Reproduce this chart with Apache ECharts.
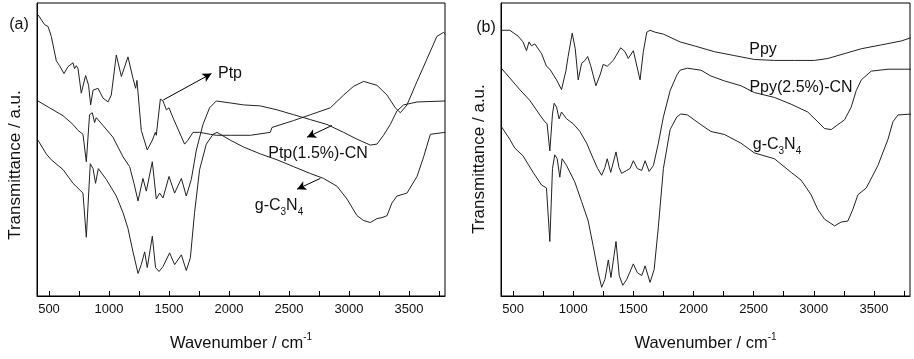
<!DOCTYPE html>
<html>
<head>
<meta charset="utf-8">
<title>FTIR spectra</title>
<script src="https://cdn.jsdelivr.net/npm/echarts@6/dist/echarts.min.js"></script>
<style>
  html, body { margin: 0; padding: 0; background: #fff; }
  #chart { width: 914px; height: 359px; }
</style>
</head>
<body>
<div id="chart"></div>
<script>
// wavenumber axis
var tickValues = [500, 750, 1000, 1250, 1500, 1750, 2000, 2250, 2500, 2750, 3000, 3250, 3500, 3750];
var labelValues = [500, 1000, 1500, 2000, 2500, 3000, 3500];

// (a) [wavenumber, transmittance a.u.]
var ptpA = [[408,287],[463,277],[492,275],[519,265],[561,240],[588,235],[625,227],[658,234],[700,238],[713,232],[728,235],[742,232],[769,207],[805,225],[830,215],[847,195],[867,210],[908,212],[950,202],[992,198],[1019,205],[1061,246],[1103,224],[1158,244],[1200,222],[1222,212],[1233,220],[1269,169],[1319,149],[1361,159],[1386,167],[1394,164],[1428,201],[1450,199],[1478,190],[1500,192],[1533,182],[1630,155],[1658,159],[1700,167],[1755,167],[1844,165],[1894,164],[2011,164],[2178,164],[2344,167],[2358,172],[2538,179],[2678,185],[2844,192],[2955,205],[3038,214],[3122,219],[3233,215],[3317,205],[3386,192],[3428,187],[3483,195],[3567,219],[3650,242],[3733,265],[3788,269],[3802,267]];
var ptpCnA = [[408,199],[505,192],[617,184],[700,175],[742,169],[783,165],[811,137],[838,185],[861,187],[880,177],[894,182],[950,174],[1033,162],[1117,142],[1172,132],[1208,115],[1242,97],[1283,120],[1311,107],[1361,137],[1394,99],[1422,105],[1450,100],[1500,122],[1547,105],[1603,120],[1644,102],[1686,119],[1728,149],[1783,175],[1838,192],[1894,199],[2011,197],[2122,195],[2261,194],[2400,190],[2538,185],[2678,180],[2817,175],[2955,167],[3067,160],[3178,154],[3233,155],[3288,164],[3344,175],[3400,189],[3455,195],[3567,198],[3800,199]];
var gcnA = [[408,159],[477,145],[519,139],[617,129],[700,115],[742,110],[783,105],[811,60],[844,135],[867,130],[888,115],[911,130],[977,119],[1061,102],[1117,85],[1158,69],[1200,45],[1242,23],[1269,32],[1297,45],[1319,29],[1361,61],[1388,29],[1417,25],[1450,30],[1505,44],[1547,32],[1603,42],[1644,26],[1678,39],[1713,85],[1755,129],[1811,155],[1867,165],[1900,167],[2011,159],[2122,152],[2261,145],[2400,139],[2538,132],[2678,125],[2788,120],[2900,112],[2983,99],[3067,82],[3122,77],[3178,75],[3233,79],[3275,80],[3317,82],[3358,95],[3400,102],[3483,105],[3567,122],[3622,142],[3678,165],[3800,167]];

// (b)
var ppyB = [[403,273],[473,273],[542,267],[583,261],[612,252],[633,261],[653,257],[681,259],[737,249],[778,236],[806,233],[862,222],[903,212],[939,231],[958,246],[992,270],[1017,254],[1042,222],[1070,239],[1098,242],[1120,246],[1145,237],[1189,216],[1223,227],[1250,238],[1283,236],[1333,242],[1395,255],[1431,251],[1458,244],[1500,252],[1556,222],[1583,251],[1612,271],[1639,273],[1681,271],[1750,269],[1889,261],[2006,257],[2173,251],[2339,247],[2506,243],[2673,242],[2839,242],[3006,242],[3117,244],[3228,248],[3395,254],[3562,258],[3728,262],[3825,266]];
var ppyCnB = [[403,234],[473,224],[556,212],[639,201],[723,186],[764,179],[783,177],[806,149],[828,187],[842,198],[862,194],[883,182],[903,189],[945,182],[1000,177],[1056,169],[1112,157],[1167,141],[1203,131],[1237,124],[1264,132],[1283,141],[1312,127],[1356,148],[1381,132],[1403,126],[1445,129],[1473,131],[1500,139],[1533,131],[1570,129],[1598,139],[1631,128],[1667,134],[1708,157],[1750,184],[1806,211],[1862,227],[1889,232],[1950,234],[2062,232],[2145,226],[2256,221],[2395,216],[2506,209],[2673,204],[2812,197],[2950,189],[3033,179],[3089,172],[3145,171],[3200,176],[3256,181],[3311,194],[3353,211],[3395,222],[3478,231],[3617,233],[3825,233]];
var gcnB = [[403,174],[473,161],[514,152],[583,144],[667,127],[737,114],[778,111],[806,56],[828,131],[847,145],[867,141],[889,122],[908,141],[945,134],[1014,117],[1070,97],[1125,77],[1167,51],[1208,24],[1237,9],[1264,17],[1292,37],[1314,19],[1356,56],[1383,21],[1412,11],[1445,17],[1500,33],[1533,24],[1570,21],[1598,31],[1639,14],[1673,27],[1708,71],[1750,131],[1806,171],[1862,184],[1895,187],[1950,186],[2062,176],[2145,169],[2256,166],[2395,157],[2506,147],[2673,141],[2812,127],[2895,119],[2978,104],[3033,89],[3089,79],[3173,72],[3228,76],[3283,77],[3325,89],[3367,104],[3437,111],[3533,134],[3617,161],[3658,179],[3700,186],[3825,187]];

var FONT = '"Liberation Sans", Arial, sans-serif';
var INK = '#111';
var LINE = '#222';

function makeX(idx) {
    return {
        gridIndex: idx,
        type: 'value',
        min: 400,
        max: 3800,
        name: 'Wavenumber / cm{sup|-1}',
        nameLocation: 'middle',
        nameGap: 36,
        nameTextStyle: {
            fontFamily: FONT, fontSize: 16.5, color: INK, lineHeight: 22,
            rich: { sup: { fontFamily: FONT, fontSize: 10, color: INK, verticalAlign: 'top', lineHeight: 22 } }
        },
        axisLine: { show: true, lineStyle: { color: '#000', width: 1 } },
        axisTick: { show: true, inside: true, length: 5, customValues: tickValues, lineStyle: { color: '#000' } },
        axisLabel: {
            show: true, customValues: labelValues, fontFamily: FONT, fontSize: 13, color: INK, margin: 7,
            formatter: function (v) { return String(v); }
        },
        splitLine: { show: false }
    };
}

function makeY(idx, top) {
    return {
        gridIndex: idx,
        type: 'value',
        min: 0,
        max: top,
        axisLine: { show: true, lineStyle: { color: '#000', width: 1 } },
        axisTick: { show: false },
        axisLabel: { show: false },
        splitLine: { show: false }
    };
}

function spectrum(name, data, idx, arrow) {
    var s = {
        name: name,
        type: 'line',
        xAxisIndex: idx,
        yAxisIndex: idx,
        data: data,
        showSymbol: false,
        symbol: 'none',
        lineStyle: { color: LINE, width: 1 },
        silent: true
    };
    if (arrow) {
        s.markLine = {
            silent: true,
            symbol: ['none', 'arrow'],
            symbolSize: [7, 9],
            label: { show: false },
            lineStyle: { color: '#000', width: 1, type: 'solid' },
            data: [[{ coord: arrow[0] }, { coord: arrow[1] }]]
        };
    }
    return s;
}

var subRich = {
    sub: { fontFamily: FONT, fontSize: 10, color: INK, verticalAlign: 'bottom', lineHeight: 22 }
};

function label(x, y, text) {
    return {
        type: 'text', x: x, y: y,
        style: {
            text: text, fontFamily: FONT, fontSize: 16, fill: INK, lineHeight: 22,
            align: 'center', verticalAlign: 'middle', rich: subRich
        }
    };
}

function yTitle(x, y) {
    return {
        type: 'text', x: x, y: y, rotation: Math.PI / 2,
        style: {
            text: 'Transmittance / a.u.', fontFamily: FONT, fontSize: 17, fill: INK,
            align: 'center', verticalAlign: 'middle'
        }
    };
}

var myChart = echarts.init(document.getElementById('chart'));
myChart.setOption({
    animation: false,
    backgroundColor: '#fff',
    grid: [
        { left: 37, right: 469, top: 3, bottom: 57, show: true, borderColor: '#000', borderWidth: 1 },
        { left: 501, right: 4, top: 3, bottom: 55, show: true, borderColor: '#000', borderWidth: 1 }
    ],
    xAxis: [makeX(0), makeX(1)],
    yAxis: [makeY(0, 299), makeY(1, 301)],
    series: [
        spectrum('Ptp', ptpA, 0, [[1452, 200], [1854, 227]]),
        spectrum('Ptp(1.5%)-CN', ptpCnA, 0, [[2858, 174], [2650, 162]]),
        spectrum('g-C3N4', gcnA, 0, [[2761, 120], [2567, 109]]),
        spectrum('Ppy', ppyB, 1),
        spectrum('Ppy(2.5%)-CN', ppyCnB, 1),
        spectrum('g-C3N4', gcnB, 1)
    ],
    graphic: [
        yTitle(15.5, 165),
        yTitle(479.5, 159),
        label(19, 25, '(a)'),
        label(486, 28, '(b)'),
        label(230, 74, 'Ptp'),
        label(318, 154, 'Ptp(1.5%)-CN'),
        label(279, 206, 'g-C{sub|3}N{sub|4}'),
        label(763, 50, 'Ppy'),
        label(801, 88, 'Ppy(2.5%)-CN'),
        label(777, 145, 'g-C{sub|3}N{sub|4}')
    ]
});
</script>
</body>
</html>
